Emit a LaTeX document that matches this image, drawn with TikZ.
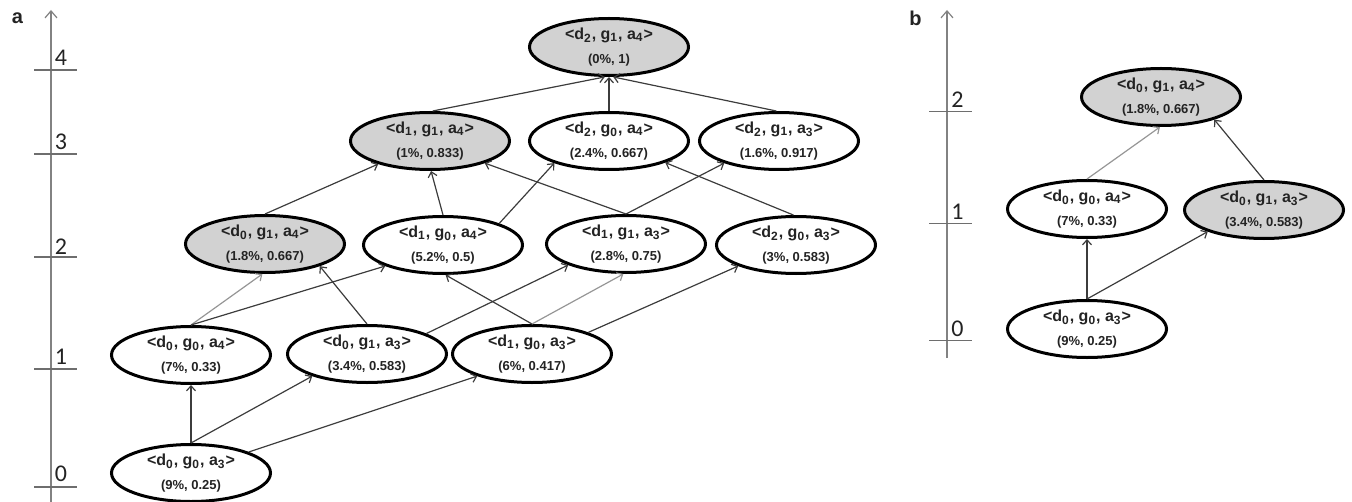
\documentclass[tikz,border=0pt]{standalone}
\usepackage{fontspec}
\setmainfont{Liberation Sans}
\newfontfamily\axisfont{Carlito}
\usetikzlibrary{shapes.geometric,arrows.meta}
\definecolor{nodegray}{RGB}{210,210,210}
\definecolor{edgedark}{RGB}{60,60,60}
\definecolor{edgelight}{RGB}{150,150,150}
\definecolor{axisgray}{RGB}{130,130,130}
\definecolor{txt}{RGB}{35,35,35}
\newcommand{\lat}[6]{{\fontsize{8}{9.5}\selectfont\bfseries <d\textsubscript{#1}, g\textsubscript{#2}, a\textsubscript{#3}>}\\[0.3pt]{\fontsize{6.5}{7}\selectfont\bfseries (#4\%, #5)}}
\tikzset{
  latnode/.style={ellipse, draw=black, line width=1.5pt, fill=white, text=txt,
    minimum width=79.5pt, minimum height=28.5pt, inner sep=0pt, align=center},
  grayfill/.style={latnode, fill=nodegray},
  edge/.style={draw=edgedark, line width=0.6pt, -{Straight Barb[length=2.5pt,width=4.5pt]}},
  lightedge/.style={edge, draw=edgelight},
  axisline/.style={draw=axisgray, line width=0.6pt, -{Straight Barb[length=3.5pt,width=6pt]}},
  tickline/.style={draw=axisgray!85!black, line width=0.6pt},
  ticklabel/.style={font=\axisfont\fontsize{12}{12}\selectfont, text=txt, inner sep=0pt},
  panellabel/.style={font=\bfseries\fontsize{10}{10}\selectfont, text=txt, inner sep=0pt}
}
\begin{document}
\begin{tikzpicture}[x=0.5pt,y=-0.5pt]
\useasboundingbox (0,0) rectangle (1352,502);
% ---------- panel a axis ----------
\node[panellabel] (la) at (17.5,18) {a};
\coordinate (axabot) at (51,502);
\coordinate (axatop) at (51,10);
\draw[axisline] (axabot) -- (axatop);
\foreach \yy/\lab in {70/4,154/3,257/2,369/1,487/0}{
  \draw[tickline] (34,\yy) -- (77,\yy);
}
\node[ticklabel] (ta4) at (61,57.5) {4};
\node[ticklabel] (ta3) at (61,141.5) {3};
\node[ticklabel] (ta2) at (61,246.5) {2};
\node[ticklabel] (ta1) at (61,356.5) {1};
\node[ticklabel] (ta0) at (61,473.5) {0};
% ---------- panel a nodes ----------
\node[latnode]  (n0) at (191,473) {\lat{0}{0}{3}{9}{0.25}{}};
\node[latnode]  (A)  at (191,355) {\lat{0}{0}{4}{7}{0.33}{}};
\node[latnode]  (B)  at (367,354) {\lat{0}{1}{3}{3.4}{0.583}{}};
\node[latnode]  (C)  at (532,354) {\lat{1}{0}{3}{6}{0.417}{}};
\node[grayfill] (D)  at (265,244) {\lat{0}{1}{4}{1.8}{0.667}{}};
\node[latnode]  (E)  at (443,245) {\lat{1}{0}{4}{5.2}{0.5}{}};
\node[latnode]  (F)  at (626,244) {\lat{1}{1}{3}{2.8}{0.75}{}};
\node[latnode]  (G)  at (796,245) {\lat{2}{0}{3}{3}{0.583}{}};
\node[grayfill] (H)  at (430,141) {\lat{1}{1}{4}{1}{0.833}{}};
\node[latnode]  (I)  at (609,141) {\lat{2}{0}{4}{2.4}{0.667}{}};
\node[latnode]  (J)  at (779,141) {\lat{2}{1}{3}{1.6}{0.917}{}};
\node[grayfill] (K)  at (609,47)  {\lat{2}{1}{4}{0}{1}{}};
% ---------- panel a edges ----------
\draw[edge] (n0.north) -- (A.south);
\draw[edge] (n0.north) -- (B.202);
\draw[edge] (n0.20) -- (C.202);
\draw[lightedge] (A.north) -- (D.265);
\draw[edge] (A.north) -- (E.200);
\draw[edge] (B.north) -- (D.-22);
\draw[edge] (B.19) -- (F.200);
\draw[edge] (C.north) -- (E.275);
\draw[lightedge] (C.north) -- (F.265);
\draw[edge] (C.21) -- (G.200);
\draw[edge] (D.north) -- (H.204);
\draw[edge] (E.north) -- (H.272);
\draw[edge] (E.21) -- (I.202);
\draw[edge] (F.north) -- (H.-22);
\draw[edge] (F.north) -- (J.202);
\draw[edge] (G.95) -- (I.-21);
\draw[edge] (H.85) -- (K.262);
\draw[edge] (I.north) -- (K.south);
\draw[edge] (J.95) -- (K.278);
% ---------- panel b axis ----------
\node[panellabel] (lb) at (915.5,18) {b};
\coordinate (axbbot) at (947,358);
\coordinate (axbtop) at (947,10);
\draw[axisline] (axbbot) -- (axbtop);
\foreach \yy in {111.7,223.3,340.7}{
  \draw[tickline] (929,\yy) -- (972,\yy);
}
\node[ticklabel] (tb2) at (957.5,100) {2};
\node[ticklabel] (tb1) at (957.5,211.5) {1};
\node[ticklabel] (tb0) at (957.5,328.5) {0};
% ---------- panel b nodes ----------
\node[grayfill] (T)  at (1161,97)  {\lat{0}{1}{4}{1.8}{0.667}{}};
\node[latnode]  (L)  at (1087,209) {\lat{0}{0}{4}{7}{0.33}{}};
\node[grayfill] (R)  at (1264,210) {\lat{0}{1}{3}{3.4}{0.583}{}};
\node[latnode]  (B0) at (1087,329) {\lat{0}{0}{3}{9}{0.25}{}};
% ---------- panel b edges ----------
\draw[edge] (B0.north) -- (L.south);
\draw[edge] (B0.north) -- (R.201);
\draw[lightedge] (L.north) -- (T.268);
\draw[edge] (R.north) -- (T.-23);
\end{tikzpicture}
\end{document}
